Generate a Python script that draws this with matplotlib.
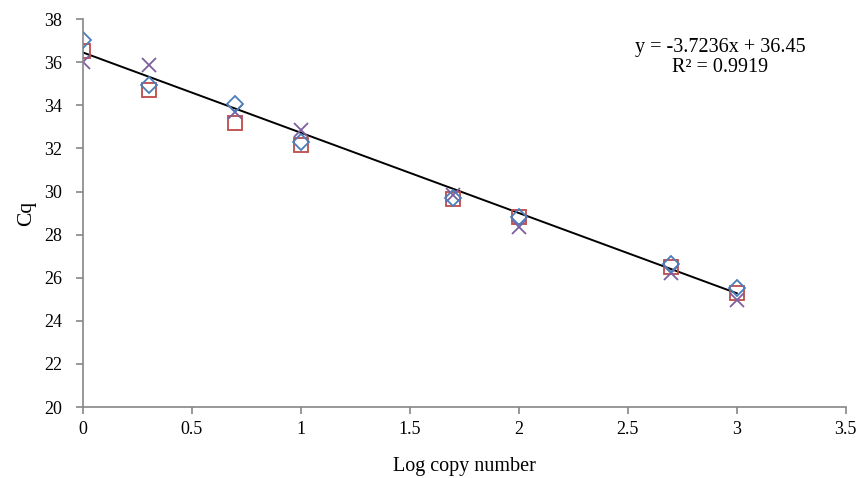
import numpy as np
import matplotlib
matplotlib.use("Agg")
import matplotlib.pyplot as plt

plt.rcParams['font.family'] = ['Liberation Serif', 'DejaVu Serif']

# log copy number for each dilution
log_copy = [0, 0.301, 0.699, 1, 1.699, 2, 2.699, 3]

# Cq values of the three replicates
rep1 = [37.05, 34.95, 34.05, 32.3, 29.7, 28.8, 26.65, 25.5]   # diamonds
rep2 = [36.5, 34.7, 33.2, 32.15, 29.65, 28.8, 26.5, 25.3]     # squares
rep3 = [36.0, 35.85, 33.7, 32.85, 29.85, 28.35, 26.2, 24.95]  # crosses

slope = -3.7236
intercept = 36.45
r2 = 0.9919

x_ticks = [0, 0.5, 1, 1.5, 2, 2.5, 3, 3.5]
y_ticks = [20, 22, 24, 26, 28, 30, 32, 34, 36, 38]

fig = plt.figure(figsize=(8.56, 4.78), dpi=100)
ax = fig.add_axes([0.097, 0.1485, 0.891, 0.8115])

xs = np.array(log_copy)
ax.plot([xs.min(), xs.max()], [intercept + slope * xs.min(), intercept + slope * xs.max()],
        color='black', lw=1.4, zorder=1)

ax.plot(log_copy, rep1, linestyle='none', marker='D', ms=8.5, mfc='none',
        mec='#4a7ebb', mew=1.3, zorder=3)
ax.plot(log_copy, rep2, linestyle='none', marker='s', ms=10.5, mfc='none',
        mec='#be4b48', mew=1.3, zorder=2)
ax.plot(log_copy, rep3, linestyle='none', marker='x', ms=10.5, mfc='none',
        mec='#7d5fa0', mew=1.3, zorder=2)

ax.set_xlim(0, 3.5)
ax.set_ylim(20, 38)
ax.set_xticks(x_ticks)
ax.set_xticklabels([f"{t:g}" for t in x_ticks])
ax.set_yticks(y_ticks)

for s in ['top', 'right']:
    ax.spines[s].set_visible(False)
for s in ['left', 'bottom']:
    ax.spines[s].set_color('#868686')
    ax.spines[s].set_linewidth(1.2)
ax.tick_params(axis='both', direction='out', length=5, width=1.2, color='#868686',
               labelsize=13)
ax.tick_params(axis='x', pad=5)
ax.tick_params(axis='y', pad=10)

ax.set_xlabel('Log copy number', fontsize=14.5, labelpad=14)
ax.set_ylabel('Cq', fontsize=15.5, labelpad=6)

fig.text(0.841, 0.9, f"y = {slope}x + {intercept}", ha='center', va='center', fontsize=14.5)
fig.text(0.841, 0.858, f"R² = {r2}", ha='center', va='center', fontsize=14.5)

fig.savefig('out.png', dpi=100)
